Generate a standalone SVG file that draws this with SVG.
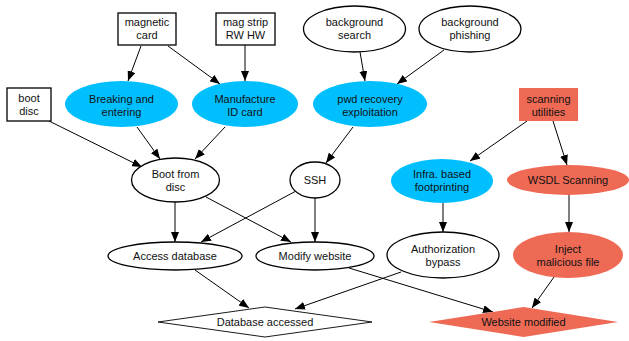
<svg xmlns="http://www.w3.org/2000/svg" width="629" height="341" viewBox="0 0 629 341">
<defs>
<marker id="ah" viewBox="0 0 10 8" refX="10" refY="4" markerWidth="10" markerHeight="8" markerUnits="userSpaceOnUse" orient="auto">
<path d="M0,0 L10,4 L0,8 z" fill="#000"/>
</marker>
</defs>
<style>
text{font-family:"Liberation Sans",Arial,sans-serif;font-size:11px;fill:#111;text-anchor:middle}
.w{fill:#fff;stroke:#000;stroke-width:1.3}
.d{fill:#fff;stroke:#000;stroke-width:0.9}
.b{fill:#00bfff;stroke:none}
.r{fill:#ef6a55;stroke:none}
.e line{stroke:#000;stroke-width:1;marker-end:url(#ah)}
</style>
<rect width="629" height="341" fill="#fff"/>
<g class="e" id="connectors">
<line x1="141" y1="46" x2="128" y2="81"/>
<line x1="168" y1="46" x2="220" y2="84"/>
<line x1="245" y1="45" x2="245" y2="81"/>
<line x1="360" y1="52" x2="365" y2="81"/>
<line x1="444" y1="50" x2="397" y2="84"/>
<line x1="49" y1="121" x2="142" y2="167"/>
<line x1="137" y1="127" x2="160" y2="159"/>
<line x1="225" y1="127" x2="195" y2="159"/>
<line x1="353" y1="127" x2="326" y2="163"/>
<line x1="527" y1="121" x2="470" y2="161"/>
<line x1="553" y1="121" x2="567" y2="165"/>
<line x1="175" y1="202" x2="175" y2="242"/>
<line x1="206" y1="197" x2="291" y2="242"/>
<line x1="296" y1="191" x2="201" y2="242"/>
<line x1="315" y1="198" x2="315" y2="242"/>
<line x1="443" y1="203" x2="443" y2="232"/>
<line x1="569" y1="195" x2="569" y2="232"/>
<line x1="195" y1="270" x2="249" y2="308"/>
<line x1="401" y1="272" x2="295" y2="309"/>
<line x1="349" y1="268" x2="493" y2="312"/>
<line x1="554" y1="277" x2="532" y2="308"/>
</g>
<g id="magnetic_card"><rect class="w" x="118" y="13" width="58" height="32"/><text x="147" y="26">magnetic</text><text x="147" y="39">card</text></g>
<g id="mag_strip"><rect class="w" x="216" y="13" width="59" height="32"/><text x="245.5" y="26">mag strip</text><text x="245.5" y="39">RW HW</text></g>
<g id="boot_disc"><rect class="w" x="7" y="88" width="44" height="33"/><text x="29" y="102">boot</text><text x="29" y="115">disc</text></g>
<g id="bg_search"><ellipse class="w" cx="354.5" cy="29" rx="51" ry="23"/><text x="354.5" y="26">background</text><text x="354.5" y="39">search</text></g>
<g id="bg_phishing"><ellipse class="w" cx="470" cy="29" rx="51" ry="23"/><text x="470" y="26">background</text><text x="470" y="39">phishing</text></g>
<g id="breaking"><ellipse class="b" cx="121.5" cy="104" rx="56.5" ry="23"/><text x="121.5" y="103">Breaking and</text><text x="121.5" y="116">entering</text></g>
<g id="manufacture"><ellipse class="b" cx="245" cy="104" rx="53" ry="23"/><text x="245" y="103">Manufacture</text><text x="245" y="116">ID card</text></g>
<g id="pwd"><ellipse class="b" cx="370" cy="104" rx="57" ry="23"/><text x="370" y="103">pwd recovery</text><text x="370" y="116">exploitation</text></g>
<g id="scanning"><rect class="r" x="519" y="88" width="59" height="33"/><text x="548.5" y="103">scanning</text><text x="548.5" y="116">utilities</text></g>
<g id="boot_from_disc"><ellipse class="w" cx="175.5" cy="180" rx="44" ry="22"/><text x="175.5" y="178">Boot from</text><text x="175.5" y="191">disc</text></g>
<g id="ssh"><ellipse class="w" cx="315" cy="180" rx="25" ry="18"/><text x="315" y="184">SSH</text></g>
<g id="infra"><ellipse class="b" cx="442" cy="181" rx="51" ry="22"/><text x="442" y="178">Infra. based</text><text x="442" y="191">footprinting</text></g>
<g id="wsdl"><ellipse class="r" cx="568" cy="180" rx="61" ry="15"/><text x="568" y="184">WSDL Scanning</text></g>
<g id="access_db"><ellipse class="w" cx="175" cy="256" rx="67" ry="14"/><text x="175" y="260">Access database</text></g>
<g id="modify"><ellipse class="w" cx="315" cy="256" rx="59" ry="14"/><text x="315" y="260">Modify website</text></g>
<g id="auth"><ellipse class="w" cx="443" cy="255" rx="56" ry="23"/><text x="443" y="253">Authorization</text><text x="443" y="266">bypass</text></g>
<g id="inject"><ellipse class="r" cx="568" cy="255" rx="55" ry="23"/><text x="568" y="253">Inject</text><text x="568" y="266">malicious file</text></g>
<g id="db_accessed"><polygon class="d" points="158,322 265,307 372,322 265,337"/><text x="265" y="326">Database accessed</text></g>
<g id="web_modified"><polygon class="r" points="429,322 523.5,307 618,322 523.5,337"/><text x="523.5" y="326">Website modified</text></g>
</svg>
